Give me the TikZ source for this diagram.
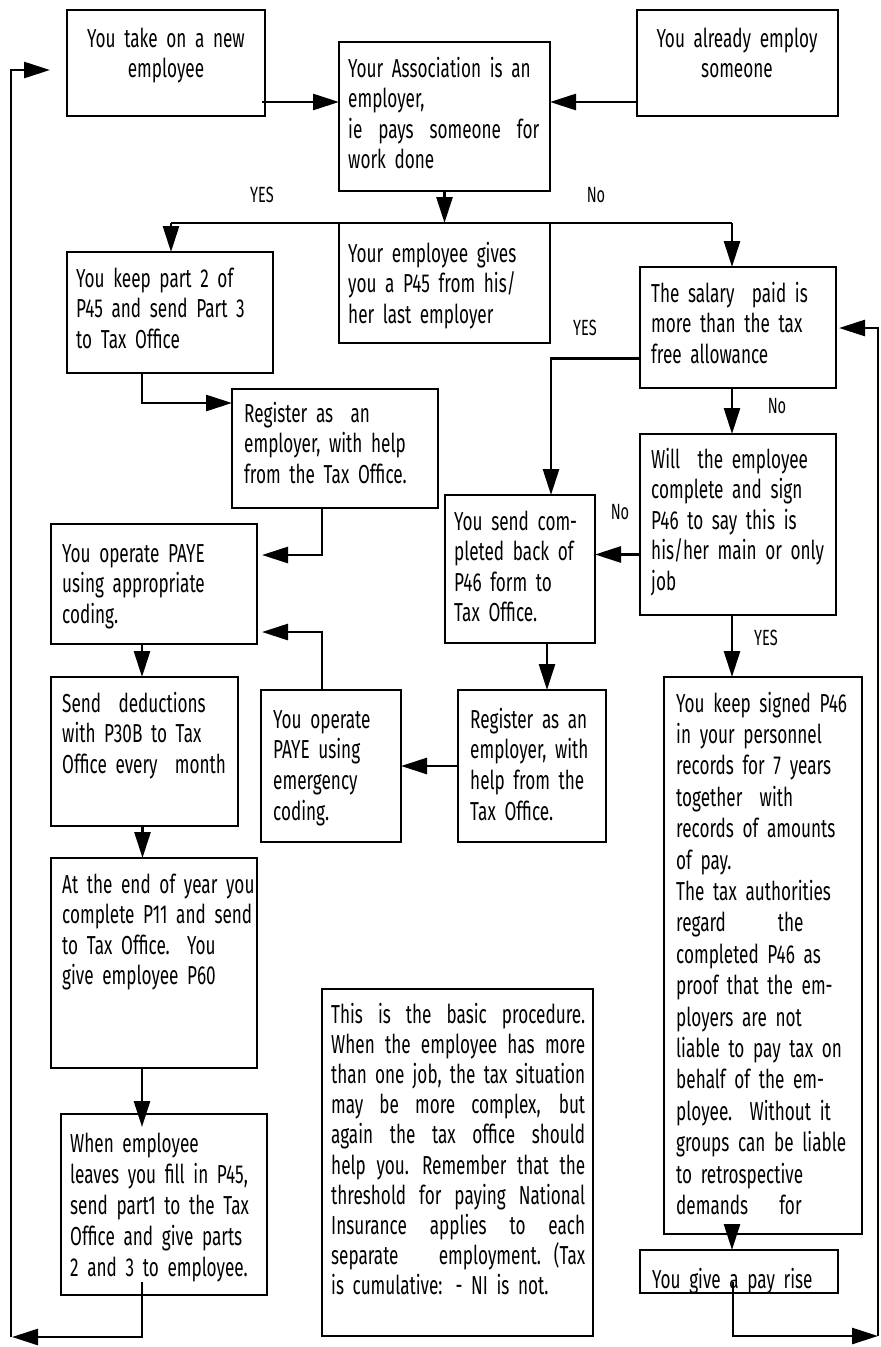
\documentclass[tikz,border=0pt]{standalone}
\usepackage{fontspec}
\setmainfont{Fira Sans}[FakeStretch=0.66]
\usetikzlibrary{arrows.meta,calc}
\tikzset{
  boxst/.style={draw, line width=2.7pt, inner sep=0pt, outer sep=0pt, anchor=north west},
  txt/.style={inner sep=0pt, anchor=base west, text width=260pt, align=left, font=\fontsize{26}{30.5}\selectfont},
  ctxt/.style={inner sep=0pt, anchor=base, text width=260pt, align=center, font=\fontsize{26}{30}\selectfont},
  lbl/.style={inner sep=0pt, font=\fontsize{22}{24}\selectfont},
  con/.style={line width=2.7pt},
  arr/.style={line width=2.7pt, -{Triangle[length=26pt,width=16pt]}},
}
\newcommand\bx[5]{\node[boxst, minimum width={(#4-#2)*1pt}, minimum height={(#5-#3)*1pt}] (#1) at (#2,#3) {};}
\newcommand\jl[2]{\makebox[#1][s]{\spaceskip=.3em plus 1fil\relax #2}}
\begin{document}
\begin{tikzpicture}[x=1pt,y=-1pt]
\useasboundingbox (0,0) rectangle (881,1347);
% boxes
\bx{b1}{67}{10}{265}{116}
\bx{b2}{339}{42}{550}{191}
\bx{b3}{637}{10}{838}{116}
\bx{b4}{339}{223}{550}{343}
\bx{b5}{67}{252}{273}{373}
\bx{b6}{232}{389}{438}{508}
\bx{b7}{51}{524}{257}{644}
\bx{b8}{51}{677}{238}{826}
\bx{b9}{261}{690}{401}{842}
\bx{b10}{51}{858}{257}{1068}
\bx{b11}{458}{690}{606}{842}
\bx{b12}{61}{1114}{267}{1295}
\bx{b13}{322}{989}{593}{1336}
\bx{b14}{640}{267}{836}{388}
\bx{b15}{445}{495}{595}{643}
\bx{b16}{640}{434}{836}{615}
\bx{b17}{664}{677}{862}{1234}
\bx{b18}{640}{1250}{838}{1293}
% texts
\node[ctxt] (t1) at (166,47) {You take on a new\\employee};
\node[txt] (t2) at (348,77) {Your Association is an\\employer,\\\jl{191pt}{ie pays someone for}\\work done};
\node[ctxt] (t3) at (737,47) {You already employ\\someone};
\node[txt] (t4) at (348,262) {Your employee gives\\you a P45 from his/\\her last employer};
\node[txt] (t5) at (76,287) {You keep part 2 of\\P45 and send Part 3\\to Tax Office};
\node[txt] (t6) at (244,422) {Register as\ \ an\\employer, with help\\from the Tax Office.};
\node[txt] (t7) at (62,562) {You operate PAYE\\using appropriate\\coding.};
\node[txt] (t8) at (62,712) {Send\ \ deductions\\with P30B to Tax\\Office every\ \ month};
\node[txt, font=\fontsize{26}{30.7}\selectfont] (t9) at (273,728) {You operate\\PAYE using\\emergency\\coding.};
\node[txt] (t10) at (62,893) {At the end of year you\\complete P11 and send\\to Tax Office.\ \ You\\give employee P60};
\node[txt, font=\fontsize{26}{30.7}\selectfont] (t11) at (470,728) {Register as an\\employer, with\\help from the\\Tax Office.};
\node[txt, font=\fontsize{26}{31.2}\selectfont] (t12) at (70,1152) {When employee\\leaves you fill in P45,\\send part1 to the Tax\\Office and give parts\\2 and 3 to employee.};
\node[txt, font=\fontsize{26}{30.2}\selectfont] (t13) at (331,1023) {\jl{254pt}{This is the basic procedure.}\\\jl{254pt}{When the employee has more}\\\jl{254pt}{than one job, the tax situation}\\\jl{254pt}{may be more complex, but}\\\jl{254pt}{again the tax office should}\\\jl{254pt}{help you. Remember that the}\\\jl{254pt}{threshold for paying National}\\\jl{254pt}{Insurance applies to each}\\\jl{254pt}{separate employment. (Tax}\\is cumulative: - NI is not.};
\node[txt] (t14) at (651,302) {The salary\ \ paid is\\more than the tax\\free allowance};
\node[txt] (t15) at (454,530) {You send com-\\pleted back of\\P46 form to\\Tax Office.};
\node[txt] (t16) at (651,468) {Will\ \ the employee\\complete and sign\\P46 to say this is\\his/her main or only\\job};
\node[txt, font=\fontsize{26}{31.4}\selectfont] (t17) at (676,712) {You keep signed P46\\in your personnel\\records for 7 years\\together\ \ with\\records of amounts\\of pay.\\The tax authorities\\regard\hspace{2em}the\\completed P46 as\\proof that the em-\\ployers are not\\liable to pay tax on\\behalf of the em-\\ployee.\ \ Without it\\groups can be liable\\to retrospective\\demands\hspace{1.2em}for};
\node[txt] (t18) at (652,1288) {You give a pay rise};
% labels
\node[lbl] (l1) at (262,195) {YES};
\node[lbl] (l2) at (596,195) {No};
\node[lbl] (l3) at (585,328) {YES};
\node[lbl] (l4) at (777,406) {No};
\node[lbl] (l5) at (620,512) {No};
\node[lbl] (l6) at (766,638) {YES};
% coordinates
\coordinate (jL) at (171,223);
\coordinate (jR) at (732,223);
\coordinate (Lb) at (11,1337);
\coordinate (Lt) at (11,70);
\coordinate (Ltip) at (50,70);
\coordinate (Rb) at (878,1336);
\coordinate (Rt) at (878,328);
% connectors
\draw[arr] ([xshift=-3pt,yshift=-39pt]b1.east) -- ([yshift=-39pt]b1.east -| b2.west);
\draw[arr] ([yshift=-39pt]b3.west) -- ([yshift=-39pt]b3.west -| b2.east);
\draw[arr] (b2.south) -- (b2.south |- jL);
\draw[con] (jL) -- (jR);
\draw[arr] (jL) -- (jL |- b5.north);
\draw[arr] (jR) -- (jR |- b14.north);
\draw[arr] ([xshift=-28pt]b5.south) |- ([yshift=-14pt]b6.north west);
\draw[arr] ([xshift=-13pt]b6.south) |- ([xshift=5pt,yshift=29pt]b7.east);
\draw[arr] ([xshift=-9pt]b9.north) |- ([xshift=5pt,yshift=-48pt]b7.east);
\draw[arr] ([xshift=-12pt]b7.south) -- ([xshift=-12pt]b7.south |- b8.north);
\draw[arr] ([xshift=-2pt]b8.south) -- ([xshift=-2pt]b8.south |- b10.north);
\draw[arr] ([xshift=-12pt]b10.south) -- ([xshift=-12pt,yshift=-13pt]b10.south |- b12.north);
\draw[arr] ([xshift=-22pt,yshift=13pt]b12.south) |- ([xshift=1pt]Lb);
\draw[arr] (Lb) -- (Lt) -- (Ltip);
\draw[arr] ([yshift=-31pt]b14.west) -| ([xshift=31pt]b15.north);
\draw[arr] (jR |- b14.south) -- (jR |- b16.north);
\draw[arr] ([yshift=-30pt]b16.west) -- ([yshift=-30pt]b16.west -| b15.east);
\draw[arr] (jR |- b16.south) -- (jR |- b17.north);
\draw[arr] (jR |- b17.south) -- (jR |- b18.north);
\draw[arr] (b11.west |- b9.east) -- (b9.east);
\draw[arr] ([xshift=27pt]b15.south) -- ([xshift=27pt]b15.south |- b11.north);
\draw[arr] ([xshift=-6pt,yshift=11pt]b18.south) |- (Rb);
\draw[arr] (Rb) -- (Rt) -- ([xshift=3pt]b14.east |- Rt);
\end{tikzpicture}
\end{document}
